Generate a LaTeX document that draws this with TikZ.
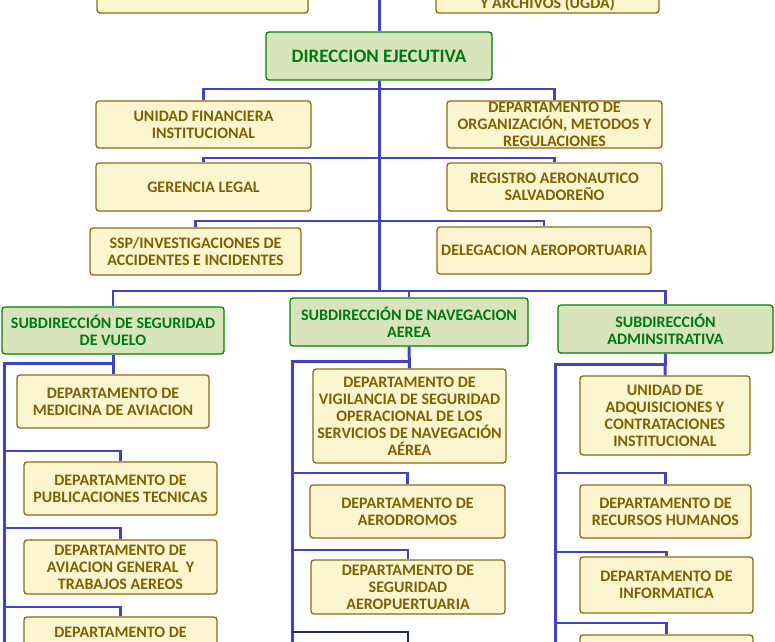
\documentclass[tikz,border=0pt]{standalone}
\usepackage{fontspec}
\setmainfont{Carlito}
\usetikzlibrary{positioning}
\definecolor{boxfill}{RGB}{251,246,208}
\definecolor{boxline}{RGB}{140,105,20}
\definecolor{boxtext}{RGB}{127,96,0}
\definecolor{headfill}{RGB}{216,228,188}
\definecolor{headline}{RGB}{0,128,0}
\definecolor{headtext}{RGB}{0,120,20}
\definecolor{linkblue}{RGB}{66,66,196}
\definecolor{linknavy}{RGB}{31,40,100}
\tikzstyle{unitfont} = [text=boxtext, font=\bfseries\fontsize{16}{17}\selectfont, align=center]
\tikzstyle{unit} = [draw=boxline, fill=boxfill, rectangle, rounded corners=3pt, line width=1.3pt,
 unitfont, inner sep=1pt]
\tikzstyle{head} = [unit, draw=headline, fill=headfill, text=headtext]
\tikzstyle{link} = [draw=linkblue, line width=2.4pt]
\tikzstyle{trunk} = [draw=linkblue, line width=3pt]
\tikzstyle{navylink} = [draw=linknavy, line width=1.6pt]

\begin{document}
\begin{tikzpicture}[x=1pt, y=-1pt]
	\useasboundingbox (0,0) rectangle (775,641);
	\clip (0,0) rectangle (775,641);
	
	\node [unit, minimum width=211, minimum height=46] (topl) at (202.5,-10) {};
	\node [unit, minimum width=223, minimum height=46] (topr) at (547.5,-10) {};
	\node [unitfont, anchor=base, inner sep=0pt] (ugda) at (547.5,8.5) {Y ARCHIVOS (UGDA)};
	
	\node [head, minimum width=226, minimum height=48, font=\bfseries\fontsize{19}{20}\selectfont] (dir) at (379,56) {DIRECCION EJECUTIVA};
	
	\node [unit, minimum width=215, minimum height=47] (ufi) at (203.5,124.5) {UNIDAD FINANCIERA\\INSTITUCIONAL};
	\node [unit, minimum width=215, minimum height=47] (dom) at (554.5,124.5) {DEPARTAMENTO DE\\ORGANIZACIÓN, METODOS Y\\REGULACIONES};
	\node [unit, minimum width=215, minimum height=48] (gle) at (203.5,187) {GERENCIA LEGAL};
	\node [unit, minimum width=215, minimum height=48] (ras) at (554.5,187) {REGISTRO AERONAUTICO\\SALVADOREÑO};
	\node [unit, minimum width=211, minimum height=47] (ssp) at (195.5,251.5) {SSP/INVESTIGACIONES DE\\ACCIDENTES E INCIDENTES};
	\node [unit, minimum width=214, minimum height=47] (dae) at (544,250.5) {DELEGACION AEROPORTUARIA};
	
	\node [head, minimum width=222, minimum height=47] (ssv) at (113,330.5) {SUBDIRECCIÓN DE SEGURIDAD\\DE VUELO};
	\node [head, minimum width=238, minimum height=48] (sna) at (409,322) {SUBDIRECCIÓN DE NAVEGACION\\AEREA};
	\node [head, minimum width=215, minimum height=48] (sad) at (665.5,329) {SUBDIRECCIÓN\\ADMINSITRATIVA};
	
	% seguridad de vuelo
	\node [unit, minimum width=192, minimum height=53] (med) at (113,401.5) {DEPARTAMENTO DE\\MEDICINA DE AVIACION};
	\node [unit, minimum width=193, minimum height=53] (pub) at (120.5,488.5) {DEPARTAMENTO DE\\PUBLICACIONES TECNICAS};
	\node [unit, minimum width=193, minimum height=54] (avg) at (120.5,567) {DEPARTAMENTO DE\\AVIACION GENERAL \ Y\\TRABAJOS AEREOS};
	\node [unit, minimum width=193, minimum height=30] (svx) at (120.5,632) {DEPARTAMENTO DE};
	
	% navegacion aerea
	\node [unit, minimum width=193, minimum height=94] (vig) at (409.5,416) {DEPARTAMENTO DE\\VIGILANCIA DE SEGURIDAD\\OPERACIONAL DE LOS\\SERVICIOS DE NAVEGACIÓN\\AÉREA};
	\node [unit, minimum width=195, minimum height=53] (aer) at (407.5,511.5) {DEPARTAMENTO DE\\AERODROMOS};
	\node [unit, minimum width=194, minimum height=54] (sap) at (408,587) {DEPARTAMENTO DE\\SEGURIDAD\\AEROPUERTUARIA};
	
	% administrativa
	\node [unit, minimum width=170, minimum height=79] (adq) at (665,415.5) {UNIDAD DE\\ADQUISICIONES Y\\CONTRATACIONES\\INSTITUCIONAL};
	\node [unit, minimum width=171, minimum height=53] (rrh) at (665.5,511.5) {DEPARTAMENTO DE\\RECURSOS HUMANOS};
	\node [unit, minimum width=173, minimum height=56] (inf) at (666.5,585) {DEPARTAMENTO DE\\INFORMATICA};
	\node [unit, minimum width=173, minimum height=40] (adx) at (666.5,655) {};
	
	\coordinate (top) at (379,-5);
	\coordinate (b1) at (379,89);
	\coordinate (b2) at (379,158);
	\coordinate (b3) at (379,221);
	\coordinate (bus) at (379,291);
	\coordinate (l0) at (4,363);
	\coordinate (l1) at (4,451);
	\coordinate (l2) at (4,528);
	\coordinate (l3) at (4,607);
	\coordinate (lend) at (4,660);
	\coordinate (m0) at (292,361);
	\coordinate (m1) at (292,473);
	\coordinate (m2) at (292,550);
	\coordinate (m3) at (292,632);
	\coordinate (mend) at (292,660);
	\coordinate (nav) at (408,660);
	\coordinate (r0) at (555,364);
	\coordinate (r1) at (555,473);
	\coordinate (r2) at (555,552);
	\coordinate (r3) at (555,623);
	\coordinate (rend) at (555,660);
	
	\draw [trunk] (top) -- (dir.north);
	\draw [trunk] (dir.south) -- (bus);
	
	\draw [link] (b1) -| (ufi.north);
	\draw [link] (b1) -| (dom.north);
	\draw [link] (b2) -| (gle.north);
	\draw [link] (b2) -| (ras.north);
	\draw [link] (b3) -| (ssp.north);
	\draw [link] (b3) -| (dae.north);
	
	\draw [link] (bus) -| (ssv.north);
	\draw [link] (bus) -| (sna.north);
	\draw [link] (bus) -| (sad.north);
	
	\draw [trunk] (ssv.south) -- (med.north);
	\draw [trunk] (ssv.south |- l0) -- (l0) -- (lend);
	\draw [link] (l1) -| (pub.north);
	\draw [link] (l2) -| (avg.north);
	\draw [link] (l3) -| (svx.north);
	
	\draw [trunk] (sna.south) -- (vig.north);
	\draw [trunk] (sna.south |- m0) -- (m0) -- (mend);
	\draw [link] (m1) -| (aer.north);
	\draw [link] (m2) -| (sap.north);
	\draw [navylink] (m3) -| (nav);
	
	\draw [trunk] (sad.south) -- (adq.north);
	\draw [trunk] (sad.south |- r0) -- (r0) -- (rend);
	\draw [link] (r1) -| (rrh.north);
	\draw [link] (r2) -| (inf.north);
	\draw [link] (r3) -| (adx.north);
	
\end{tikzpicture}
\end{document}
